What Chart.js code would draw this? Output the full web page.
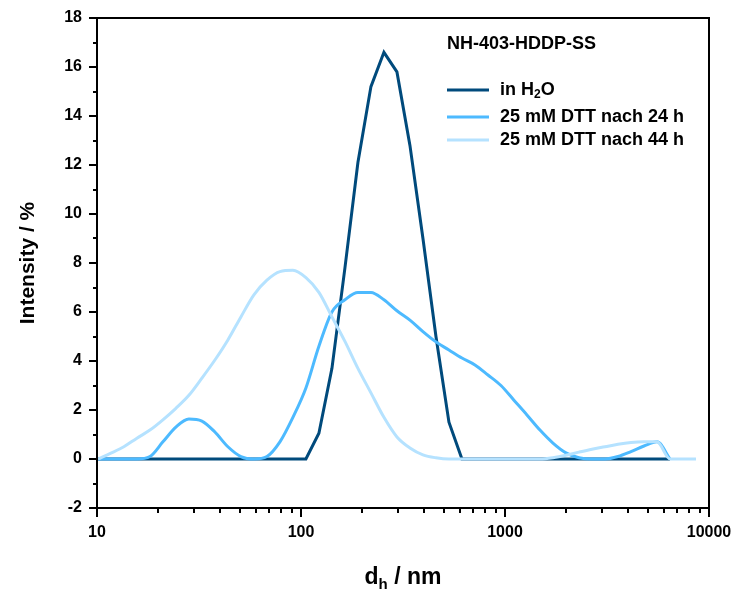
<!DOCTYPE html>
<html>
<head>
<meta charset="utf-8">
<script src="https://cdn.jsdelivr.net/npm/chart.js@4.4.1/dist/chart.umd.min.js"></script>
<style>
  html, body { margin: 0; padding: 0; background: #fff; }
  #wrap { width: 739px; height: 595px; }
</style>
</head>
<body>
<div id="wrap"><canvas id="chart" width="739" height="595"></canvas></div>
<script>
// hydrodynamic diameter bins (nm)
const sizes = [10.1, 11.7, 13.54, 15.69, 18.17, 21.04, 24.36, 28.21, 32.67, 37.84,
    43.82, 50.75, 58.77, 68.06, 78.82, 91.28, 105.7, 122.4, 141.8, 164.2,
    190.1, 220.2, 255.0, 295.3, 342.0, 396.1, 458.7, 531.2, 615.1, 712.4,
    825.0, 955.4, 1106, 1281, 1484, 1718, 1990, 2305, 2669, 3091,
    3580, 4145, 4801, 5560, 6439, 7456, 8635];

const inH2O = [0, 0, 0, 0, 0, 0, 0, 0, 0, 0,
    0, 0, 0, 0, 0, 0, 0, 1.05, 3.7, 7.8,
    12.1, 15.2, 16.6, 15.8, 12.8, 9.0, 5.0, 1.5, 0, 0,
    0, 0, 0, 0, 0, 0, 0, 0, 0, 0,
    0, 0, 0, 0, 0, null, null];

const dtt24h = [0, 0, 0, 0, 0.1, 0.7, 1.3, 1.63, 1.55, 1.1,
    0.5, 0.1, 0, 0.1, 0.7, 1.7, 2.9, 4.6, 6.0, 6.5,
    6.8, 6.8, 6.5, 6.05, 5.67, 5.2, 4.78, 4.45, 4.12, 3.84,
    3.43, 3.0, 2.4, 1.8, 1.18, 0.65, 0.25, 0.05, 0, 0,
    0.1, 0.3, 0.53, 0.7, 0, null, null];

const dtt44h = [0, 0.24, 0.5, 0.85, 1.18, 1.6, 2.07, 2.6, 3.3, 4.04,
    4.86, 5.8, 6.7, 7.3, 7.65, 7.7, 7.4, 6.8, 5.8, 4.8,
    3.7, 2.7, 1.7, 0.9, 0.45, 0.17, 0.05, 0, 0, 0,
    0, 0, 0, 0, 0, 0.05, 0.15, 0.28, 0.4, 0.5,
    0.6, 0.67, 0.7, 0.7, 0, 0, 0];

const seriesNames = ['in H2O', '25 mM DTT nach 24 h', '25 mM DTT nach 44 h'];
const seriesColors = ['#004a7c', '#4dbaff', '#b5e2ff'];
const legendTitle = 'NH-403-HDDP-SS';
const yTicks = [-2, 0, 2, 4, 6, 8, 10, 12, 14, 16, 18];
const xDecades = [10, 100, 1000, 10000];

const FONT = '"Liberation Sans", Arial, sans-serif';

function toPoints(values) {
    return sizes.map((s, i) => ({ x: s, y: values[i] }));
}

// frame, tick marks, axis titles and in-plot legend
const decorPlugin = {
    id: 'decor',
    afterDraw(chart) {
        const ctx = chart.ctx;
        const area = chart.chartArea;
        const xs = chart.scales.x;
        const ys = chart.scales.y;
        ctx.save();
        ctx.strokeStyle = '#000';
        ctx.lineWidth = 2;
        ctx.strokeRect(area.left, area.top, area.right - area.left, area.bottom - area.top);

        // y ticks: every 1, long ones at the labelled values
        ctx.beginPath();
        for (let v = -2; v <= 18; v++) {
            const py = Math.round(ys.getPixelForValue(v));
            const len = v % 2 === 0 ? 8 : 4;
            ctx.moveTo(area.left - len, py);
            ctx.lineTo(area.left, py);
        }
        // x ticks: decades long, 2..9 short
        xDecades.forEach((d, k) => {
            const px = Math.round(xs.getPixelForValue(d));
            ctx.moveTo(px, area.bottom);
            ctx.lineTo(px, area.bottom + 9);
            if (k < xDecades.length - 1) {
                for (let m = 2; m <= 9; m++) {
                    const mx = Math.round(xs.getPixelForValue(d * m));
                    ctx.moveTo(mx, area.bottom);
                    ctx.lineTo(mx, area.bottom + 5);
                }
            }
        });
        ctx.stroke();

        ctx.fillStyle = '#000';
        // y title
        ctx.save();
        ctx.translate(28, (area.top + area.bottom) / 2);
        ctx.rotate(-Math.PI / 2);
        ctx.font = 'bold 21px ' + FONT;
        ctx.textAlign = 'center';
        ctx.textBaseline = 'middle';
        ctx.fillText('Intensity / %', 0, 0);
        ctx.restore();

        // x title: d_h / nm
        const big = 'bold 23px ' + FONT;
        const small = 'bold 15px ' + FONT;
        ctx.textBaseline = 'alphabetic';
        ctx.textAlign = 'left';
        ctx.font = big;
        const wd = ctx.measureText('d').width;
        const wr = ctx.measureText(' / nm').width;
        ctx.font = small;
        const wh = ctx.measureText('h').width;
        let tx = (area.left + area.right) / 2 - (wd + wh + wr) / 2;
        const ty = 584;
        ctx.font = big;
        ctx.fillText('d', tx, ty);
        ctx.font = small;
        ctx.fillText('h', tx + wd, ty + 5);
        ctx.font = big;
        ctx.fillText(' / nm', tx + wd + wh, ty);

        // legend
        const lx = 447;
        ctx.textBaseline = 'middle';
        ctx.font = 'bold 18px ' + FONT;
        ctx.fillText(legendTitle, lx, 44);
        const rows = [90, 117, 140];
        rows.forEach((ry, i) => {
            ctx.strokeStyle = seriesColors[i];
            ctx.lineWidth = 3;
            ctx.beginPath();
            ctx.moveTo(lx, ry);
            ctx.lineTo(lx + 42, ry);
            ctx.stroke();
            const txx = lx + 53;
            if (i === 0) {
                ctx.font = 'bold 18px ' + FONT;
                ctx.fillText('in H', txx, ry);
                const w1 = ctx.measureText('in H').width;
                ctx.font = 'bold 12px ' + FONT;
                ctx.fillText('2', txx + w1, ry + 5);
                const w2 = ctx.measureText('2').width;
                ctx.font = 'bold 18px ' + FONT;
                ctx.fillText('O', txx + w1 + w2, ry);
            } else {
                ctx.font = 'bold 18px ' + FONT;
                ctx.fillText(seriesNames[i], txx, ry);
            }
        });
        ctx.restore();
    }
};

const ctx = document.getElementById('chart').getContext('2d');
new Chart(ctx, {
    type: 'line',
    data: {
        datasets: [{
            label: seriesNames[2],
            data: toPoints(dtt44h),
            borderColor: seriesColors[2],
            borderWidth: 3,
            cubicInterpolationMode: 'monotone',
            pointRadius: 0,
            spanGaps: false
        }, {
            label: seriesNames[1],
            data: toPoints(dtt24h),
            borderColor: seriesColors[1],
            borderWidth: 3,
            cubicInterpolationMode: 'monotone',
            pointRadius: 0,
            spanGaps: false
        }, {
            label: seriesNames[0],
            data: toPoints(inH2O),
            borderColor: seriesColors[0],
            borderWidth: 3,
            tension: 0,
            pointRadius: 0,
            spanGaps: false
        }]
    },
    options: {
        responsive: false,
        animation: false,
        layout: { padding: { left: 0, right: 30, top: 18, bottom: 0 } },
        scales: {
            x: {
                type: 'logarithmic',
                min: 10,
                max: 10000,
                afterFit: s => { s.height = 87; s.paddingLeft = 0; s.paddingRight = 0; },
                afterBuildTicks: s => { s.ticks = xDecades.map(v => ({ value: v })); },
                grid: { display: false, drawTicks: false },
                border: { display: false },
                ticks: {
                    autoSkip: false,
                    maxRotation: 0,
                    padding: 15,
                    color: '#000',
                    font: { size: 16, weight: 'bold', family: FONT },
                    callback: v => String(v)
                }
            },
            y: {
                min: -2,
                max: 18,
                afterFit: s => { s.width = 97; s.paddingTop = 0; s.paddingBottom = 0; },
                afterBuildTicks: s => { s.ticks = yTicks.map(v => ({ value: v })); },
                grid: { display: false, drawTicks: false },
                border: { display: false },
                ticks: {
                    padding: 15,
                    color: '#000',
                    font: { size: 16, weight: 'bold', family: FONT }
                }
            }
        },
        plugins: {
            legend: { display: false },
            tooltip: { enabled: false }
        }
    },
    plugins: [decorPlugin]
});
</script>
</body>
</html>
